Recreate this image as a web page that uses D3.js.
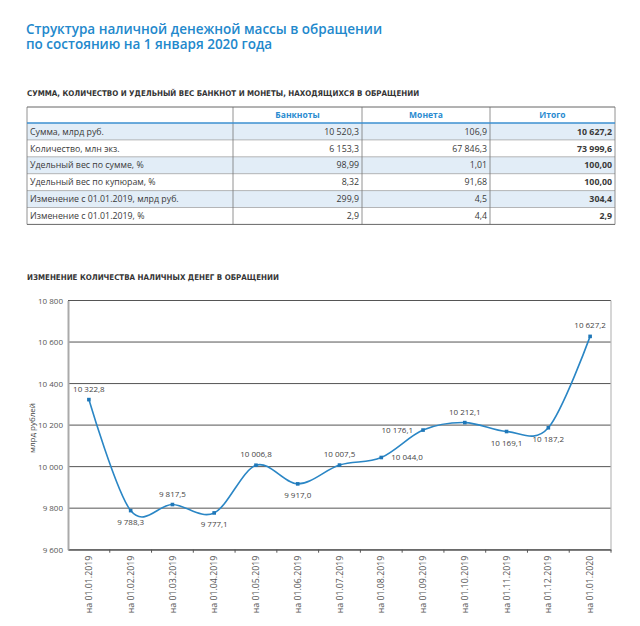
<!DOCTYPE html>
<meta charset="utf-8">
<style>
body{ margin:0; background:#fff; }
text{ font-family:"Open Sans","Noto Sans",sans-serif; fill:#3a3a3a; }
.title{ font-size:13.5px; font-weight:600; fill:#2288cc; }
.caps{ font-family:"Liberation Sans Narrow","DejaVu Sans Condensed",sans-serif; font-weight:bold; font-size:7.9px; fill:#333; }
.cell{ font-size:8.8px; }
.head{ font-size:8.5px; font-weight:bold; fill:#2a8bd0; text-anchor:middle; }
.tick text{ font-size:8px; fill:#555; }
.xlab .tick text{ font-size:8.8px; }
.lbl{ font-size:8px; fill:#444; }
</style>
<body>
<div id="chart"></div>
<script src="https://d3js.org/d3.v7.min.js"></script>
<script>
// table data
var colHeads = ["Банкноты", "Монета", "Итого"];
var rowLabels = ["Сумма, млрд руб.", "Количество, млн экз.", "Удельный вес по сумме, %",
                 "Удельный вес по купюрам, %", "Изменение с 01.01.2019, млрд руб.", "Изменение с 01.01.2019, %"];
var banknotes = [10520.3, 6153.3, 98.99, 8.32, 299.9, 2.9];
var coins     = [106.9, 67846.3, 1.01, 91.68, 4.5, 4.4];
var totals    = [10627.2, 73999.6, 100.00, 100.00, 304.4, 2.9];
var decimals  = [1, 1, 2, 2, 1, 1];

// chart data
var dates = ["на 01.01.2019","на 01.02.2019","на 01.03.2019","на 01.04.2019","на 01.05.2019","на 01.06.2019",
             "на 01.07.2019","на 01.08.2019","на 01.09.2019","на 01.10.2019","на 01.11.2019","на 01.12.2019","на 01.01.2020"];
var cash = [10322.8, 9788.3, 9817.5, 9777.1, 10006.8, 9917.0, 10007.5, 10044.0, 10176.1, 10212.1, 10169.1, 10187.2, 10627.2];
var labelSide = ["top","bottom","top","bottom","top","bottom","top","right","left","top","bottom","bottom","top"];
var yTicks = [9600, 9800, 10000, 10200, 10400, 10600, 10800];

var ru = d3.formatLocale({decimal: ",", thousands: "\u00a0", grouping: [3], currency: ["", ""]});

var svg = d3.select("#chart").append("svg").attr("width", 640).attr("height", 626);

svg.append("text").attr("class","title").attr("x",26).attr("y",34).text("Структура наличной денежной массы в обращении");
svg.append("text").attr("class","title").attr("x",26).attr("y",49).text("по состоянию на 1 января 2020 года");

// ---- table ----
svg.append("text").attr("class","caps").attr("x",27).attr("y",96)
  .text("СУММА, КОЛИЧЕСТВО И УДЕЛЬНЫЙ ВЕС БАНКНОТ И МОНЕТЫ, НАХОДЯЩИХСЯ В ОБРАЩЕНИИ");

var colX = [27, 233, 362, 490, 615];
var headTop = 107, headH = 16, rowH = 16.9;
var t = svg.append("g");

rowLabels.forEach(function(r, i){
  var yr = headTop + headH + i*rowH;
  if(i % 2 == 0)
    t.append("rect").attr("x",colX[0]).attr("y",yr).attr("width",colX[4]-colX[0]).attr("height",rowH).attr("fill","#e2edf7");
  t.append("text").attr("class","cell").attr("x",colX[0]+3).attr("y",yr+rowH/2+3.2).text(r);
  [banknotes, coins, totals].forEach(function(arr, j){
    t.append("text").attr("class","cell").attr("x",colX[j+2]-3).attr("y",yr+rowH/2+3.2)
      .attr("text-anchor","end").style("font-weight", j==2 ? "bold" : null)
      .text(ru.format(",." + decimals[i] + "f")(arr[i]));
  });
});
colHeads.forEach(function(h, j){
  t.append("text").attr("class","head").attr("x",(colX[j+1]+colX[j+2])/2).attr("y",headTop+11).text(h);
});
var tBottom = headTop + headH + rowLabels.length*rowH;
for(var i=1;i<rowLabels.length;i++){
  var yy = headTop + headH + i*rowH;
  t.append("line").attr("x1",colX[0]).attr("x2",colX[4]).attr("y1",yy).attr("y2",yy).attr("stroke","#999").attr("stroke-width",0.7);
}
colX.forEach(function(xc){
  t.append("line").attr("x1",xc).attr("x2",xc).attr("y1",headTop).attr("y2",tBottom).attr("stroke","#777").attr("stroke-width",0.8);
});
t.append("line").attr("x1",colX[0]).attr("x2",colX[4]).attr("y1",headTop).attr("y2",headTop).attr("stroke","#666");
t.append("line").attr("x1",colX[0]).attr("x2",colX[4]).attr("y1",tBottom).attr("y2",tBottom).attr("stroke","#666");
t.append("line").attr("x1",colX[0]).attr("x2",colX[4]).attr("y1",headTop+headH).attr("y2",headTop+headH).attr("stroke","#3b8fd0").attr("stroke-width",1.5);

// ---- line chart ----
svg.append("text").attr("class","caps").attr("x",27).attr("y",280).text("ИЗМЕНЕНИЕ КОЛИЧЕСТВА НАЛИЧНЫХ ДЕНЕГ В ОБРАЩЕНИИ");

var pLeft = 68, pRight = 611, pTop = 300.5, pBottom = 549.7;
var x = d3.scaleBand().domain(dates).range([pLeft, pRight]);
var y = d3.scaleLinear().domain([9600, 10800]).range([pBottom, pTop]);

var g = svg.append("g");
g.selectAll(".grid").data(yTicks).enter().append("line")
  .attr("x1",pLeft).attr("x2",pRight).attr("y1",d=>y(d)).attr("y2",d=>y(d))
  .attr("stroke","#555").attr("stroke-width",1);
g.append("line").attr("x1",pRight).attr("x2",pRight).attr("y1",pTop).attr("y2",pBottom).attr("stroke","#bbb").attr("stroke-width",1.2);

var yAxis = g.append("g").attr("transform","translate("+pLeft+",0)")
  .call(d3.axisLeft(y).tickValues(yTicks).tickFormat(ru.format(",")).tickSize(0).tickPadding(5));
yAxis.select(".domain").attr("stroke","#aaa").attr("stroke-width",2);
yAxis.selectAll(".tick text").attr("font-family",null);

var xAxis = g.append("g").attr("class","xlab").attr("transform","translate(0,"+pBottom+")")
  .call(d3.axisBottom(x).tickSize(0).tickPadding(0));
xAxis.select(".domain").attr("stroke","#555");
xAxis.selectAll(".tick line").remove();
xAxis.selectAll(".tick text").attr("font-family",null)
  .attr("transform","rotate(-90)").attr("text-anchor","end").attr("dy","0.35em").attr("x",-6).attr("y",0);
// tick marks at band edges
g.selectAll(".xt").data(dates).enter().append("line")
  .attr("x1",d=>x(d)+x.bandwidth()).attr("x2",d=>x(d)+x.bandwidth())
  .attr("y1",pBottom).attr("y2",pBottom+3).attr("stroke","#555");

svg.append("text").attr("class","lbl").attr("transform","translate(35,428) rotate(-90)")
  .attr("text-anchor","middle").text("млрд рублей");

var cx = d => x(d) + x.bandwidth()/2;
var line = d3.line().x((d,i)=>cx(dates[i])).y(d=>y(d)).curve(d3.curveCardinal.tension(0));
g.append("path").datum(cash).attr("d",line).attr("fill","none").attr("stroke","#2a86c5").attr("stroke-width",1.6);

g.selectAll(".pt").data(cash).enter().append("rect")
  .attr("x",(d,i)=>cx(dates[i])-1.8).attr("y",d=>y(d)-1.8).attr("width",3.6).attr("height",3.6).attr("fill","#1f77b8");

g.selectAll(".dl").data(cash).enter().append("text").attr("class","lbl")
  .attr("x",function(d,i){
    var s = labelSide[i];
    return cx(dates[i]) + (s=="right" ? 10 : s=="left" ? -10 : 0);
  })
  .attr("y",function(d,i){
    var s = labelSide[i];
    return y(d) + (s=="top" ? -8 : s=="bottom" ? 14 : 3);
  })
  .attr("text-anchor",function(d,i){
    var s = labelSide[i];
    return s=="right" ? "start" : s=="left" ? "end" : "middle";
  })
  .text(d=>ru.format(",.1f")(d));
</script>
</body>
</html>
